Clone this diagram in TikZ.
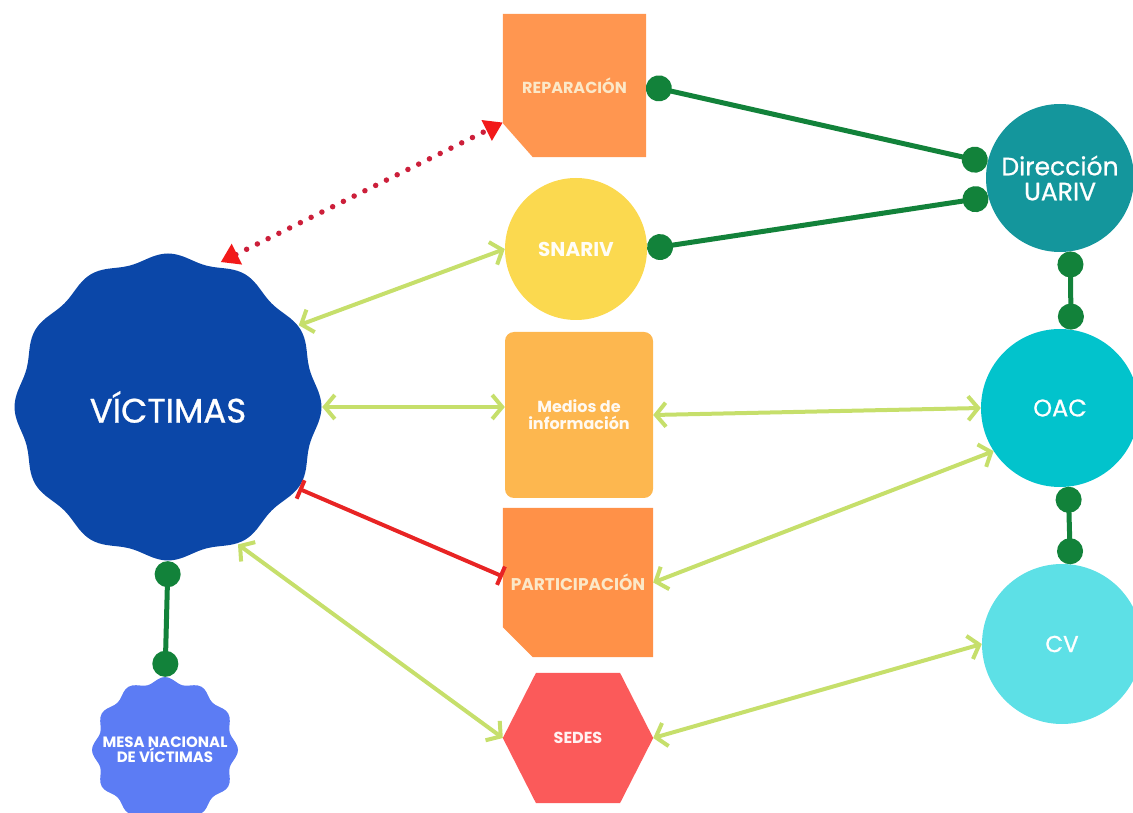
\documentclass[tikz,border=0pt]{standalone}
\usepackage{fontspec}
\setmainfont{Poppins}
\newfontfamily\medfont{Poppins}[FakeBold=0.8]
\usetikzlibrary{arrows.meta,backgrounds}
\definecolor{vicblue}{HTML}{0B47A8}
\definecolor{mesablue}{HTML}{5C7CF4}
\definecolor{repor}{HTML}{FF9650}
\definecolor{medor}{HTML}{FDB74F}
\definecolor{partor}{HTML}{FF9148}
\definecolor{sedesred}{HTML}{FB5A5A}
\definecolor{snyellow}{HTML}{FBD94F}
\definecolor{uarivteal}{HTML}{14969C}
\definecolor{oaccyan}{HTML}{02C3CC}
\definecolor{cvcyan}{HTML}{5DE0E6}
\definecolor{dgreen}{HTML}{12823A}
\definecolor{lgreen}{HTML}{C6DF6B}
\definecolor{redline}{HTML}{E82424}
\definecolor{reddot}{HTML}{CC1F3A}
\definecolor{redhead}{HTML}{F21A1A}
\definecolor{cream}{HTML}{FBE8C8}
\begin{document}
\begin{tikzpicture}[x=1pt,y=1pt,
  lbl/.style={text=white, inner sep=0pt, align=center},
  green link/.style={dgreen, line width=5pt, {Circle[length=26pt]}-{Circle[length=26pt]}},
  lime link/.style={lgreen, line width=4pt, {Straight Barb[length=10pt,width=24pt]}-{Straight Barb[length=10pt,width=24pt]}},
  red dotted/.style={reddot, line width=5.5pt, line cap=round, dash pattern=on 0pt off 12pt, {Triangle[length=18pt,width=22pt,color=redhead]}-{Triangle[length=18pt,width=22pt,color=redhead]}},
  red bar/.style={redline, line width=4pt, {Bar[width=20pt]}-{Bar[width=20pt]}}]
\useasboundingbox (0,0) rectangle (1133,812);
% ---- nodes ----
\node[lbl, circle, minimum size=308pt, font=\medfont\fontsize{34}{36}\selectfont] (vic) at (168,405) {VÍCTIMAS};
\node[lbl, circle, minimum size=146pt, font=\bfseries\fontsize{15}{15}\selectfont] (mesa) at (165,62) {MESA NACIONAL\\DE VÍCTIMAS};
\node[lbl, text=cream, minimum width=143pt, minimum height=143pt, font=\bfseries\fontsize{16}{18}\selectfont] (rep) at (574.5,726.5) {REPARACIÓN};
\node[lbl, circle, fill=snyellow, text=white!95!snyellow, minimum size=142pt, font=\bfseries\fontsize{20}{22}\selectfont] (snariv) at (576,563) {SNARIV};
\node[lbl, fill=medor, rounded corners=9pt, text=white!92!medor, minimum width=148pt, minimum height=166pt, font=\bfseries\fontsize{16}{17}\selectfont] (medios) at (579,397) {Medios de\\información};
\node[lbl, text=cream, minimum width=150pt, minimum height=149pt, font=\bfseries\fontsize{17}{19}\selectfont] (part) at (578,229.5) {PARTICIPACIÓN};
\node[lbl, text=white!92!sedesred, minimum width=150pt, minimum height=130pt, font=\bfseries\fontsize{16}{18}\selectfont] (sedes) at (578,74) {SEDES};
\node[lbl, circle, fill=uarivteal, minimum size=148pt, font=\medfont\fontsize{25}{25}\selectfont] (uariv) at (1060,634) {Dirección\\UARIV};
\node[lbl, circle, fill=oaccyan, minimum size=158pt, font=\medfont\fontsize{24}{26}\selectfont] (oac) at (1060,404) {OAC};
\node[lbl, circle, fill=cvcyan, minimum size=160pt, font=\medfont\fontsize{23}{25}\selectfont] (cv) at (1062,168) {CV};
% ---- shapes behind the texts ----
\begin{scope}[on background layer]
\fill[vicblue, shift={(vic.center)}] plot[domain=0:357, samples=120, smooth cycle, variable=\t]
  ({(150+3.5*cos(12*\t))*cos(\t)}, {(150+3.5*cos(12*\t))*sin(\t)});
\fill[mesablue, shift={(mesa.center)}] plot[domain=0:357, samples=120, smooth cycle, variable=\t]
  ({(70+3*cos(12*\t))*cos(\t)}, {(70+3*cos(12*\t))*sin(\t)});
\fill[repor] (rep.north west) -- (rep.north east) -- (rep.south east) -- ([xshift=30pt]rep.south west) -- ([yshift=34pt]rep.south west) -- cycle;
\fill[partor] (part.north west) -- (part.north east) -- (part.south east) -- ([xshift=30pt]part.south west) -- ([yshift=30pt]part.south west) -- cycle;
\fill[sedesred] ([xshift=-42pt]sedes.north) -- ([xshift=42pt]sedes.north) -- (sedes.east) -- ([xshift=42pt]sedes.south) -- ([xshift=-42pt]sedes.south) -- (sedes.west) -- cycle;
\end{scope}
% ---- connectors ----
\draw[red dotted] (vic.70) -- ([yshift=-37pt]rep.west);
\draw[green link] (rep.east) -- (uariv.168);
\draw[green link] (snariv.east) -- (uariv.195);
\draw[green link] (uariv.-82) -- (oac.82);
\draw[green link] (oac.-84) -- (cv.84);
\draw[green link] (vic.-90.5) -- (mesa.north);
\draw[lime link] (vic.32) -- (snariv.west);
\draw[lime link] (vic.east) -- (vic.east -| medios.west);
\draw[lime link] (medios.east) -- (oac.west);
\draw[lime link] (part.east) -- (oac.213);
\draw[lime link] (vic.-63) -- (sedes.west);
\draw[lime link] (sedes.east) -- (cv.west);
\draw[red bar] (vic.-32) -- ([yshift=6pt]part.west);
\end{tikzpicture}
\end{document}
